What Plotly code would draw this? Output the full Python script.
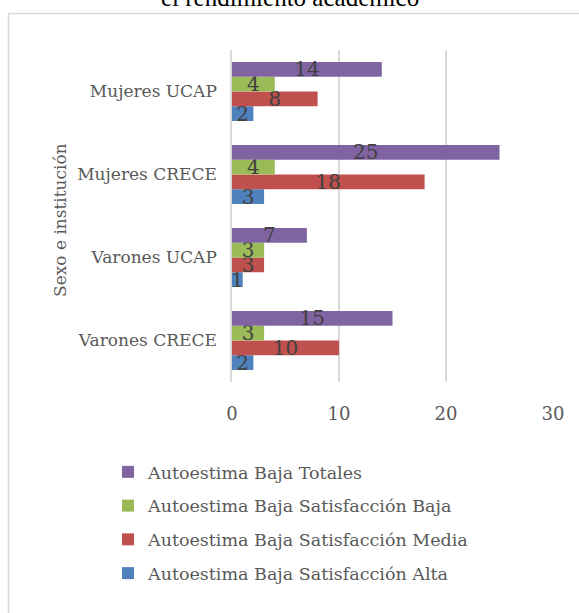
import plotly.graph_objects as go

categories = ["Varones CRECE", "Varones UCAP", "Mujeres CRECE", "Mujeres UCAP"]
alta = [2, 1, 3, 2]
media = [10, 3, 18, 8]
baja = [3, 3, 4, 4]
totales = [15, 7, 25, 14]
x_ticks = [0, 10, 20, 30]

# (name, values, colour, legend rank)
series = [
    ("Autoestima Baja Satisfacción Alta", alta, "#4F81BD", 4),
    ("Autoestima Baja Satisfacción Media", media, "#C0504D", 3),
    ("Autoestima Baja Satisfacción Baja", baja, "#9BBB59", 2),
    ("Autoestima Baja Totales", totales, "#8064A2", 1),
]

FONT = "DejaVu Serif"
fig = go.Figure()
for name, vals, col, rank in series:
    fig.add_trace(go.Bar(
        y=categories, x=vals, name=name, orientation="h",
        marker=dict(color=col, line=dict(width=0)),
        text=[str(v) for v in vals], textposition="inside",
        insidetextanchor="middle", constraintext="none", textangle=0,
        textfont=dict(family=FONT, size=20, color="#404040"),
        legendgroup=name, legendrank=rank, cliponaxis=False,
    ))

W, H = 579, 613
L, R, T, B = 232, 26, 50, 231
pw, ph = W - L - R, H - T - B

def px(x):
    return (x - L) / pw

def py(y):
    return (H - B - y) / ph

fig.update_layout(
    width=W, height=H,
    margin=dict(l=L, r=R, t=T, b=B),
    paper_bgcolor="white", plot_bgcolor="white",
    barmode="group", bargap=0.29, bargroupgap=0,
    showlegend=True,
    legend=dict(
        x=px(108), y=py(454), xanchor="left", yanchor="top",
        traceorder="grouped", tracegroupgap=8,
        font=dict(family=FONT, size=17.5, color="#595959"),
        bgcolor="rgba(0,0,0,0)",
    ),
    xaxis=dict(
        range=[0, 30], tickvals=x_ticks, ticktext=[str(t) for t in x_ticks],
        showgrid=True, gridcolor="#d9d9d9", gridwidth=1.5,
        zeroline=False, showline=False, ticks="",
        tickfont=dict(family=FONT, size=18, color="#595959"),
        ticklabelstandoff=19,
    ),
    yaxis=dict(
        categoryorder="array", categoryarray=categories,
        showline=True, linecolor="#d9d9d9", linewidth=1.5,
        showgrid=False, ticks="",
        tickfont=dict(family=FONT, size=17, color="#595959"),
        ticklabelstandoff=10,
    ),
    shapes=[dict(
        type="rect", xref="paper", yref="paper",
        x0=px(8.5), x1=px(700), y0=py(13.5), y1=py(800),
        line=dict(color="#d9d9d9", width=1.5), layer="below",
    )],
    annotations=[
        dict(text="Sexo e institución", textangle=-90, xref="paper", yref="paper",
             x=px(60), y=py(220), xanchor="center", yanchor="middle", showarrow=False,
             font=dict(family=FONT, size=17, color="#595959")),
        dict(text="el rendimiento académico", xref="paper", yref="paper",
             x=px(290), y=py(13), xanchor="center", yanchor="bottom", showarrow=False,
             font=dict(family="Liberation Serif", size=25, color="#000000")),
    ],
)

fig.write_html("out.html", config={"displayModeBar": False},
               post_script="document.body.style.margin='0';")
